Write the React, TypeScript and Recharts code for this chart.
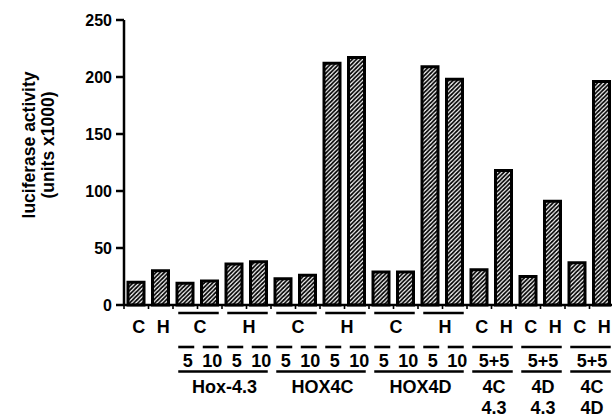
import React from "react";
import { BarChart, Bar, XAxis, YAxis } from "recharts";

const categories = [
  "C", "H",
  "Hox-4.3 C5", "Hox-4.3 C10", "Hox-4.3 H5", "Hox-4.3 H10",
  "HOX4C C5", "HOX4C C10", "HOX4C H5", "HOX4C H10",
  "HOX4D C5", "HOX4D C10", "HOX4D H5", "HOX4D H10",
  "4C+4.3 C", "4C+4.3 H", "4D+4.3 C", "4D+4.3 H", "4C+4D C", "4C+4D H",
];
const luciferase = [20, 30, 19, 21, 36, 38, 23, 26, 212, 217, 29, 29, 209, 198, 31, 118, 25, 91, 37, 196];
const yTicks = [0, 50, 100, 150, 200, 250];

type Span = { text: string; first: number; last: number; line: boolean };

const treatmentLabels: Span[] = [
  { text: "C", first: 0, last: 0, line: false },
  { text: "H", first: 1, last: 1, line: false },
  { text: "C", first: 2, last: 3, line: true },
  { text: "H", first: 4, last: 5, line: true },
  { text: "C", first: 6, last: 7, line: true },
  { text: "H", first: 8, last: 9, line: true },
  { text: "C", first: 10, last: 11, line: true },
  { text: "H", first: 12, last: 13, line: true },
  { text: "C", first: 14, last: 14, line: false },
  { text: "H", first: 15, last: 15, line: false },
  { text: "C", first: 16, last: 16, line: false },
  { text: "H", first: 17, last: 17, line: false },
  { text: "C", first: 18, last: 18, line: false },
  { text: "H", first: 19, last: 19, line: false },
];
const doseLabels: Span[] = [
  { text: "5", first: 2, last: 2, line: true },
  { text: "10", first: 3, last: 3, line: true },
  { text: "5", first: 4, last: 4, line: true },
  { text: "10", first: 5, last: 5, line: true },
  { text: "5", first: 6, last: 6, line: true },
  { text: "10", first: 7, last: 7, line: true },
  { text: "5", first: 8, last: 8, line: true },
  { text: "10", first: 9, last: 9, line: true },
  { text: "5", first: 10, last: 10, line: true },
  { text: "10", first: 11, last: 11, line: true },
  { text: "5", first: 12, last: 12, line: true },
  { text: "10", first: 13, last: 13, line: true },
  { text: "5+5", first: 14, last: 15, line: true },
  { text: "5+5", first: 16, last: 17, line: true },
  { text: "5+5", first: 18, last: 19, line: true },
];
const constructLabels: Span[] = [
  { text: "Hox-4.3", first: 2, last: 5, line: true },
  { text: "HOX4C", first: 6, last: 9, line: true },
  { text: "HOX4D", first: 10, last: 13, line: true },
  { text: "4C", first: 14, last: 15, line: true },
  { text: "4D", first: 16, last: 17, line: true },
  { text: "4C", first: 18, last: 19, line: true },
];
const partnerLabels: Span[] = [
  { text: "4.3", first: 14, last: 15, line: false },
  { text: "4.3", first: 16, last: 17, line: false },
  { text: "4D", first: 18, last: 19, line: false },
];

const data = categories.map((c, i) => ({ category: c, value: luciferase[i] }));

const FONT = '"Liberation Sans", Arial, Helvetica, sans-serif';
const CHART_W = 614;
const Y_AXIS_W = 124;
const STEP = (CHART_W - Y_AXIS_W) / categories.length;

function drawRow(spans: Span[], i: number, x: number, lineY: number, textY: number, key: string) {
  const out: React.ReactNode[] = [];
  spans.forEach((s, k) => {
    if (s.first !== i) return;
    const span = (s.last - s.first) * STEP;
    if (s.line) {
      out.push(
        <line key={key + "l" + k} x1={x - 7} x2={x + span + 9} y1={lineY} y2={lineY} stroke="#000" strokeWidth={2.6} />
      );
    }
    out.push(
      <text key={key + "t" + k} x={x + span / 2 + 2.5} y={textY} textAnchor="middle" fontFamily={FONT} fontWeight="bold" fontSize={18} fill="#000">
        {s.text}
      </text>
    );
  });
  return out;
}

function GroupTick(props: any) {
  const { x, y, payload } = props;
  const i: number = payload.index ?? props.index;
  return (
    <g>
      <line x1={x - STEP / 2} x2={x - STEP / 2} y1={y} y2={y + 4} stroke="#000" strokeWidth={1.6} />
      {i === categories.length - 1 && (
        <line x1={x + STEP / 2} x2={x + STEP / 2} y1={y} y2={y + 4} stroke="#000" strokeWidth={1.6} />
      )}
      {drawRow(treatmentLabels, i, x, y + 8, y + 27.5, "a")}
      {drawRow(doseLabels, i, x, y + 42, y + 62, "b")}
      {drawRow(constructLabels, i, x, y + 66.5, y + 87.5, "c")}
      {drawRow(partnerLabels, i, x, 0, y + 108.5, "d")}
    </g>
  );
}

function YLabel() {
  const cy = 145;
  return (
    <g>
      <text x={29} y={cy} transform={`rotate(-90 29 ${cy})`} textAnchor="middle" dominantBaseline="central" fontFamily={FONT} fontWeight="bold" fontSize={17.5} fill="#000">
        luciferase activity
      </text>
      <text x={48} y={cy} transform={`rotate(-90 48 ${cy})`} textAnchor="middle" dominantBaseline="central" fontFamily={FONT} fontWeight="bold" fontSize={17.5} fill="#000">
        (units x1000)
      </text>
    </g>
  );
}

export default function App() {
  return (
    <div style={{ position: "absolute", left: 0, top: 0, width: 612, height: 416, overflow: "hidden", background: "#fff" }}>
      <svg width={0} height={0} style={{ position: "absolute" }}>
        <defs>
          <pattern id="hatch" width={4.2} height={4.2} patternUnits="userSpaceOnUse">
            <rect width={4.2} height={4.2} fill="#fff" />
            <path d="M-1.05,1.05 l2.1,-2.1 M0,4.2 l4.2,-4.2 M3.15,5.25 l2.1,-2.1" stroke="#000" strokeWidth={1.7} />
          </pattern>
        </defs>
      </svg>
      <BarChart width={CHART_W} height={416} data={data} margin={{ top: 20, right: 0, bottom: 0, left: 0 }}>
        <XAxis
          dataKey="category"
          height={111}
          interval={0}
          tickLine={false}
          tickSize={0}
          tickMargin={0}
          axisLine={{ stroke: "#000", strokeWidth: 2.5 }}
          tick={<GroupTick />}
        />
        <YAxis
          width={Y_AXIS_W}
          domain={[0, 250]}
          ticks={yTicks}
          interval={0}
          tickSize={8}
          tickMargin={4}
          axisLine={{ stroke: "#000", strokeWidth: 2.5 }}
          tickLine={{ stroke: "#000", strokeWidth: 2.5 }}
          tick={{ fill: "#000", fontFamily: FONT, fontWeight: "bold", fontSize: 16 }}
          label={<YLabel />}
        />
        <Bar dataKey="value" barSize={16} fill="url(#hatch)" stroke="#000" strokeWidth={3} isAnimationActive={false} />
      </BarChart>
    </div>
  );
}
